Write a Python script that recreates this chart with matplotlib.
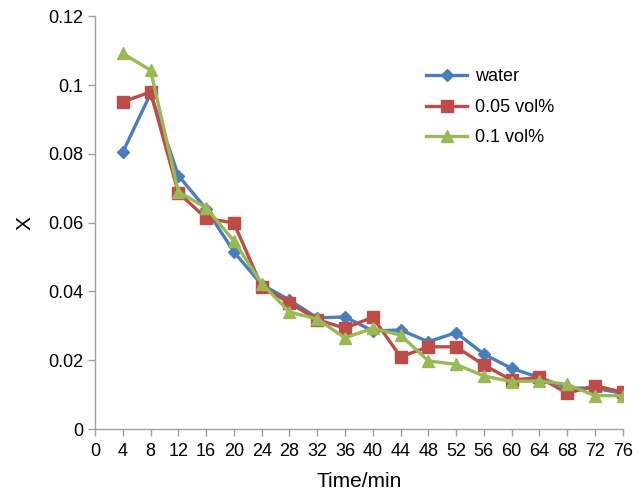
import matplotlib
matplotlib.use("Agg")
import matplotlib.pyplot as plt

plt.rcParams['font.family'] = ['Liberation Sans', 'DejaVu Sans']

time_min = [4, 8, 12, 16, 20, 24, 28, 32, 36, 40, 44, 48, 52, 56, 60, 64, 68, 72, 76]
water = [0.0805, 0.0975, 0.0737, 0.0640, 0.0515, 0.0420, 0.0375, 0.0323, 0.0326, 0.0285,
         0.0288, 0.0254, 0.0280, 0.0218, 0.0176, 0.0150, 0.0120, 0.0118, 0.0104]
vol005 = [0.0951, 0.0980, 0.0687, 0.0613, 0.0599, 0.0414, 0.0367, 0.0318, 0.0293, 0.0325,
          0.0210, 0.0239, 0.0239, 0.0186, 0.0142, 0.0150, 0.0104, 0.0126, 0.0107]
vol01 = [0.1092, 0.1043, 0.0690, 0.0643, 0.0547, 0.0423, 0.0340, 0.0320, 0.0265, 0.0293,
         0.0273, 0.0198, 0.0188, 0.0154, 0.0138, 0.0140, 0.0130, 0.0097, 0.0097]
series_names = ['water', '0.05 vol%', '0.1 vol%']
xticks = list(range(0, 80, 4))
yticks = [0, 0.02, 0.04, 0.06, 0.08, 0.1, 0.12]
ytick_labels = ['0', '0.02', '0.04', '0.06', '0.08', '0.1', '0.12']

fig = plt.figure(figsize=(6.44, 4.92), dpi=100)
ax = fig.add_axes([0.1475, 0.128, 0.8195, 0.839])

ax.plot(time_min, water, color='#4A7EBB', lw=2.4, marker='D', ms=6, label=series_names[0])
ax.plot(time_min, vol005, color='#BE4B48', lw=2.4, marker='s', ms=8.5, label=series_names[1])
ax.plot(time_min, vol01, color='#98B954', lw=2.4, marker='^', ms=9, label=series_names[2])

ax.set_xlim(0, 76)
ax.set_ylim(0, 0.12)
ax.set_xticks(xticks)
ax.set_yticks(yticks)
ax.set_yticklabels(ytick_labels)
ax.tick_params(labelsize=13, color='#A0A0A0', length=5, width=1)
ax.tick_params(axis='x', pad=5)
for s in ['top', 'right']:
    ax.spines[s].set_visible(False)
for s in ['left', 'bottom']:
    ax.spines[s].set_color('#A0A0A0')
    ax.spines[s].set_linewidth(1)

ax.set_xlabel('Time/min', fontsize=15, labelpad=9)
ax.set_ylabel('X', fontsize=15, labelpad=10)

ax.legend(loc='upper left', bbox_to_anchor=(0.596, 0.913), frameon=False, fontsize=13,
          handlelength=2.3, labelspacing=0.75, handletextpad=0.4)

fig.savefig('out.png', dpi=100)
